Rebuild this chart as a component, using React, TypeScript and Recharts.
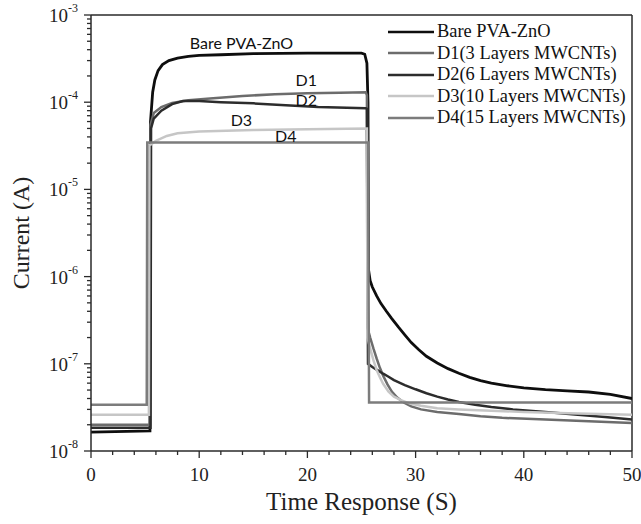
import {
  Label,
  Legend,
  Line,
  LineChart,
  ReferenceDot,
  ReferenceLine,
  XAxis,
  YAxis,
} from 'recharts';

// time (s), current (A)
const bareData: [number, number][] = [
  [0, 1.65e-8], [5.45, 1.7e-8], [5.5, 6e-5], [5.7, 1.3e-4], [5.9, 1.8e-4], [6.2, 2.3e-4],
  [6.6, 2.7e-4], [7.2, 3.0e-4], [8, 3.2e-4], [9, 3.35e-4], [10, 3.45e-4], [12, 3.5e-4],
  [15, 3.6e-4], [20, 3.65e-4], [25, 3.65e-4], [25.3, 3.55e-4], [25.5, 2.8e-4], [25.6, 1e-4],
  [25.65, 1.2e-6], [25.8, 9e-7], [26, 7.6e-7], [26.4, 6e-7], [26.8, 4.9e-7], [27.3, 4e-7],
  [27.8, 3.3e-7], [28.4, 2.65e-7], [29, 2.15e-7], [29.6, 1.75e-7], [30.3, 1.45e-7],
  [31, 1.22e-7], [32, 1.02e-7], [33, 8.8e-8], [34, 7.8e-8], [35, 7e-8], [36, 6.4e-8],
  [37, 6e-8], [38.5, 5.6e-8], [40, 5.3e-8], [42, 5.05e-8], [44, 4.9e-8], [46, 4.75e-8],
  [48, 4.45e-8], [50, 4e-8],
];

const d1Data: [number, number][] = [
  [0, 2.0e-8], [5.45, 2.0e-8], [5.5, 5.5e-5], [5.8, 7.5e-5], [6.5, 8.8e-5], [7.5, 9.8e-5],
  [9, 1.05e-4], [11, 1.1e-4], [14, 1.18e-4], [17, 1.23e-4], [20, 1.27e-4], [23, 1.28e-4],
  [25.4, 1.3e-4], [25.5, 1.2e-4], [25.55, 2.6e-7], [25.8, 2e-7], [26.1, 1.5e-7],
  [26.4, 1.15e-7], [26.7, 9e-8], [27, 7.3e-8], [27.4, 5.8e-8], [27.8, 4.8e-8], [28.3, 4.1e-8],
  [28.9, 3.6e-8], [29.6, 3.25e-8], [30.5, 3e-8], [32, 2.8e-8], [34, 2.65e-8], [36, 2.5e-8],
  [38, 2.4e-8], [42, 2.3e-8], [46, 2.2e-8], [50, 2.1e-8],
];

const d2Data: [number, number][] = [
  [0, 1.85e-8], [5.5, 1.85e-8], [5.55, 5e-5], [5.8, 6.5e-5], [6.5, 8e-5], [7.5, 9.5e-5],
  [8.5, 1.03e-4], [10, 1.03e-4], [12, 1.0e-4], [15, 9.7e-5], [18, 9.2e-5], [21, 8.8e-5],
  [25.4, 8.5e-5], [25.5, 8.4e-5], [25.6, 1e-7], [26, 9.2e-8], [26.5, 8.4e-8], [27, 7.7e-8],
  [27.5, 7.1e-8], [28, 6.5e-8], [29, 5.7e-8], [30, 5.1e-8], [31, 4.6e-8], [32, 4.2e-8],
  [33, 3.9e-8], [34, 3.65e-8], [35.5, 3.4e-8], [37, 3.2e-8], [39, 3e-8], [42, 2.8e-8],
  [45, 2.6e-8], [47.5, 2.45e-8], [50, 2.3e-8],
];

const d3Data: [number, number][] = [
  [0, 2.6e-8], [5.35, 2.6e-8], [5.4, 3.2e-5], [6, 3.6e-5], [7, 4.1e-5], [8, 4.4e-5],
  [10, 4.6e-5], [15, 4.8e-5], [20, 4.9e-5], [25.5, 5.0e-5], [25.55, 2e-7], [25.8, 1.5e-7],
  [26.1, 1.1e-7], [26.4, 8.5e-8], [26.7, 7e-8], [27, 5.9e-8], [27.5, 4.8e-8], [28, 4.2e-8],
  [28.7, 3.8e-8], [29.5, 3.5e-8], [30.5, 3.3e-8], [32, 3.1e-8], [34, 3e-8], [37, 2.9e-8],
  [40, 2.8e-8], [45, 2.7e-8], [50, 2.6e-8],
];

const d4Data: [number, number][] = [
  [0, 3.4e-8], [5.15, 3.4e-8], [5.2, 3.45e-5], [25.6, 3.45e-5], [25.7, 3.6e-8], [50, 3.6e-8],
];

const seriesNames = [
  'Bare PVA-ZnO',
  'D1(3 Layers MWCNTs)',
  'D2(6 Layers MWCNTs)',
  'D3(10 Layers MWCNTs)',
  'D4(15 Layers MWCNTs)',
];
const seriesColors = ['#0e0e0e', '#6c6c6c', '#2c2c2c', '#c6c6c6', '#7c7c7c'];
const seriesPoints = [bareData, d1Data, d2Data, d3Data, d4Data];

// in-plot annotations: [text, time, current]
const annotations: [string, number, number][] = [
  ['Bare PVA-ZnO', 13.9, 4.9e-4],
  ['D1', 19.9, 1.8e-4],
  ['D2', 19.9, 1.06e-4],
  ['D3', 13.9, 6.3e-5],
  ['D4', 18.0, 4.2e-5],
];

const xTicks = [0, 2, 4, 6, 8, 10, 12, 14, 16, 18, 20, 22, 24, 26, 28, 30, 32, 34, 36, 38, 40, 42, 44, 46, 48, 50];
const decades = [-8, -7, -6, -5, -4, -3];
const mantissas = [1, 2, 3, 4, 5, 6, 7, 8, 9];
const yTicks = decades.flatMap((d) => (d === -3 ? [1e-3] : mantissas.map((m) => m * Math.pow(10, d))));

const serif = 'Liberation Serif, Times New Roman, serif';
const axisColor = '#2a2a2a';

const series = seriesNames.map((name, i) => ({
  name,
  color: seriesColors[i],
  data: seriesPoints[i].map(([t, v]) => ({ t, v })),
}));

function XTick(props: any) {
  const { x, y, payload } = props;
  const major = payload.value % 10 === 0;
  return (
    <g>
      <line x1={x} x2={x} y1={y} y2={y + (major ? 7 : 4)} stroke={axisColor} strokeWidth={1.3} />
      {major && (
        <text x={x} y={y + 30} textAnchor="middle" fontFamily={serif} fontSize={19} fill="#222">
          {payload.value}
        </text>
      )}
    </g>
  );
}

function YTick(props: any) {
  const { x, y, payload } = props;
  const v = payload.value as number;
  const exp = Math.floor(Math.log10(v) + 1e-9);
  const m = v / Math.pow(10, exp);
  const major = Math.abs(m - 1) < 1e-6;
  return (
    <g>
      <line x1={x - (major ? 7 : 4)} x2={x} y1={y} y2={y} stroke={axisColor} strokeWidth={1.3} />
      {major && (
        <text x={x - 13} y={y + 7} textAnchor="end" fontFamily={serif} fontSize={19} fill="#222">
          10
          <tspan dy={-10} fontSize={12}>
            {exp}
          </tspan>
        </text>
      )}
    </g>
  );
}

function LegendBox(props: any) {
  const { payload } = props;
  return (
    <div style={{ fontFamily: serif, fontSize: 18.4, color: '#111', lineHeight: '21.5px' }}>
      {(payload || []).map((p: any) => (
        <div key={p.value} style={{ display: 'flex', alignItems: 'center', height: 21.5, whiteSpace: 'nowrap' }}>
          <svg width={46} height={6} style={{ marginRight: 3 }}>
            <line x1={0} x2={46} y1={3} y2={3} stroke={p.color} strokeWidth={2.6} />
          </svg>
          <span>{p.value}</span>
        </div>
      ))}
    </div>
  );
}

export default function App() {
  return (
    <div style={{ position: 'absolute', left: 0, top: 0, background: '#fff' }}>
      <LineChart width={641} height={524} margin={{ top: 15, right: 9, bottom: 43, left: 31 }}>
        <XAxis
          type="number"
          dataKey="t"
          domain={[0, 50]}
          ticks={xTicks}
          interval={0}
          allowDataOverflow
          height={30}
          tickSize={0}
          tickMargin={0}
          tick={<XTick />}
          axisLine={{ stroke: axisColor, strokeWidth: 1.5 }}
        >
          <Label
            content={(p: any) => {
              const vb = p.viewBox;
              return (
                <text
                  x={vb.x + vb.width / 2}
                  y={vb.y + vb.height + 20}
                  textAnchor="middle"
                  dominantBaseline="central"
                  fontFamily={serif}
                  fontSize={25}
                  fill="#222"
                >
                  Time Response (S)
                </text>
              );
            }}
          />
        </XAxis>
        <YAxis
          type="number"
          scale="log"
          domain={[1e-8, 1e-3]}
          ticks={yTicks}
          interval={0}
          allowDataOverflow
          width={60}
          tickSize={0}
          tickMargin={0}
          tick={<YTick />}
          axisLine={{ stroke: axisColor, strokeWidth: 1.5 }}
        >
          <Label
            content={(p: any) => {
              const vb = p.viewBox;
              return (
                <text
                  transform={`translate(${vb.x - 10}, ${vb.y + vb.height / 2}) rotate(-90)`}
                  textAnchor="middle"
                  dominantBaseline="central"
                  fontFamily={serif}
                  fontSize={24}
                  fill="#222"
                >
                  Current (A)
                </text>
              );
            }}
          />
        </YAxis>
        <ReferenceLine y={1e-3} stroke={axisColor} strokeWidth={1.5} />
        <ReferenceLine x={50} stroke={axisColor} strokeWidth={1.5} />
        {series.map((s, i) => (
          <Line
            key={s.name}
            data={s.data}
            dataKey="v"
            name={s.name}
            type="linear"
            stroke={s.color}
            strokeWidth={i === 0 ? 2.8 : 2.5}
            dot={false}
            isAnimationActive={false}
          />
        ))}
        {annotations.map(([text, t, v]) => (
          <ReferenceDot
            key={text}
            x={t}
            y={v}
            r={1}
            fill="none"
            stroke="none"
            label={(p: any) => {
              const vb = p.viewBox;
              return (
                <text
                  x={vb.x + vb.width / 2}
                  y={vb.y + vb.height / 2}
                  textAnchor="middle"
                  dominantBaseline="central"
                  fontFamily="Lato, Noto Sans, sans-serif"
                  fontSize={16}
                  fill="#111"
                >
                  {text}
                </text>
              );
            }}
          />
        ))}
        <Legend
          layout="vertical"
          align="center"
          verticalAlign="middle"
          content={<LegendBox />}
          wrapperStyle={{ left: 388, top: 21, width: 250, height: 110 }}
        />
      </LineChart>
    </div>
  );
}
